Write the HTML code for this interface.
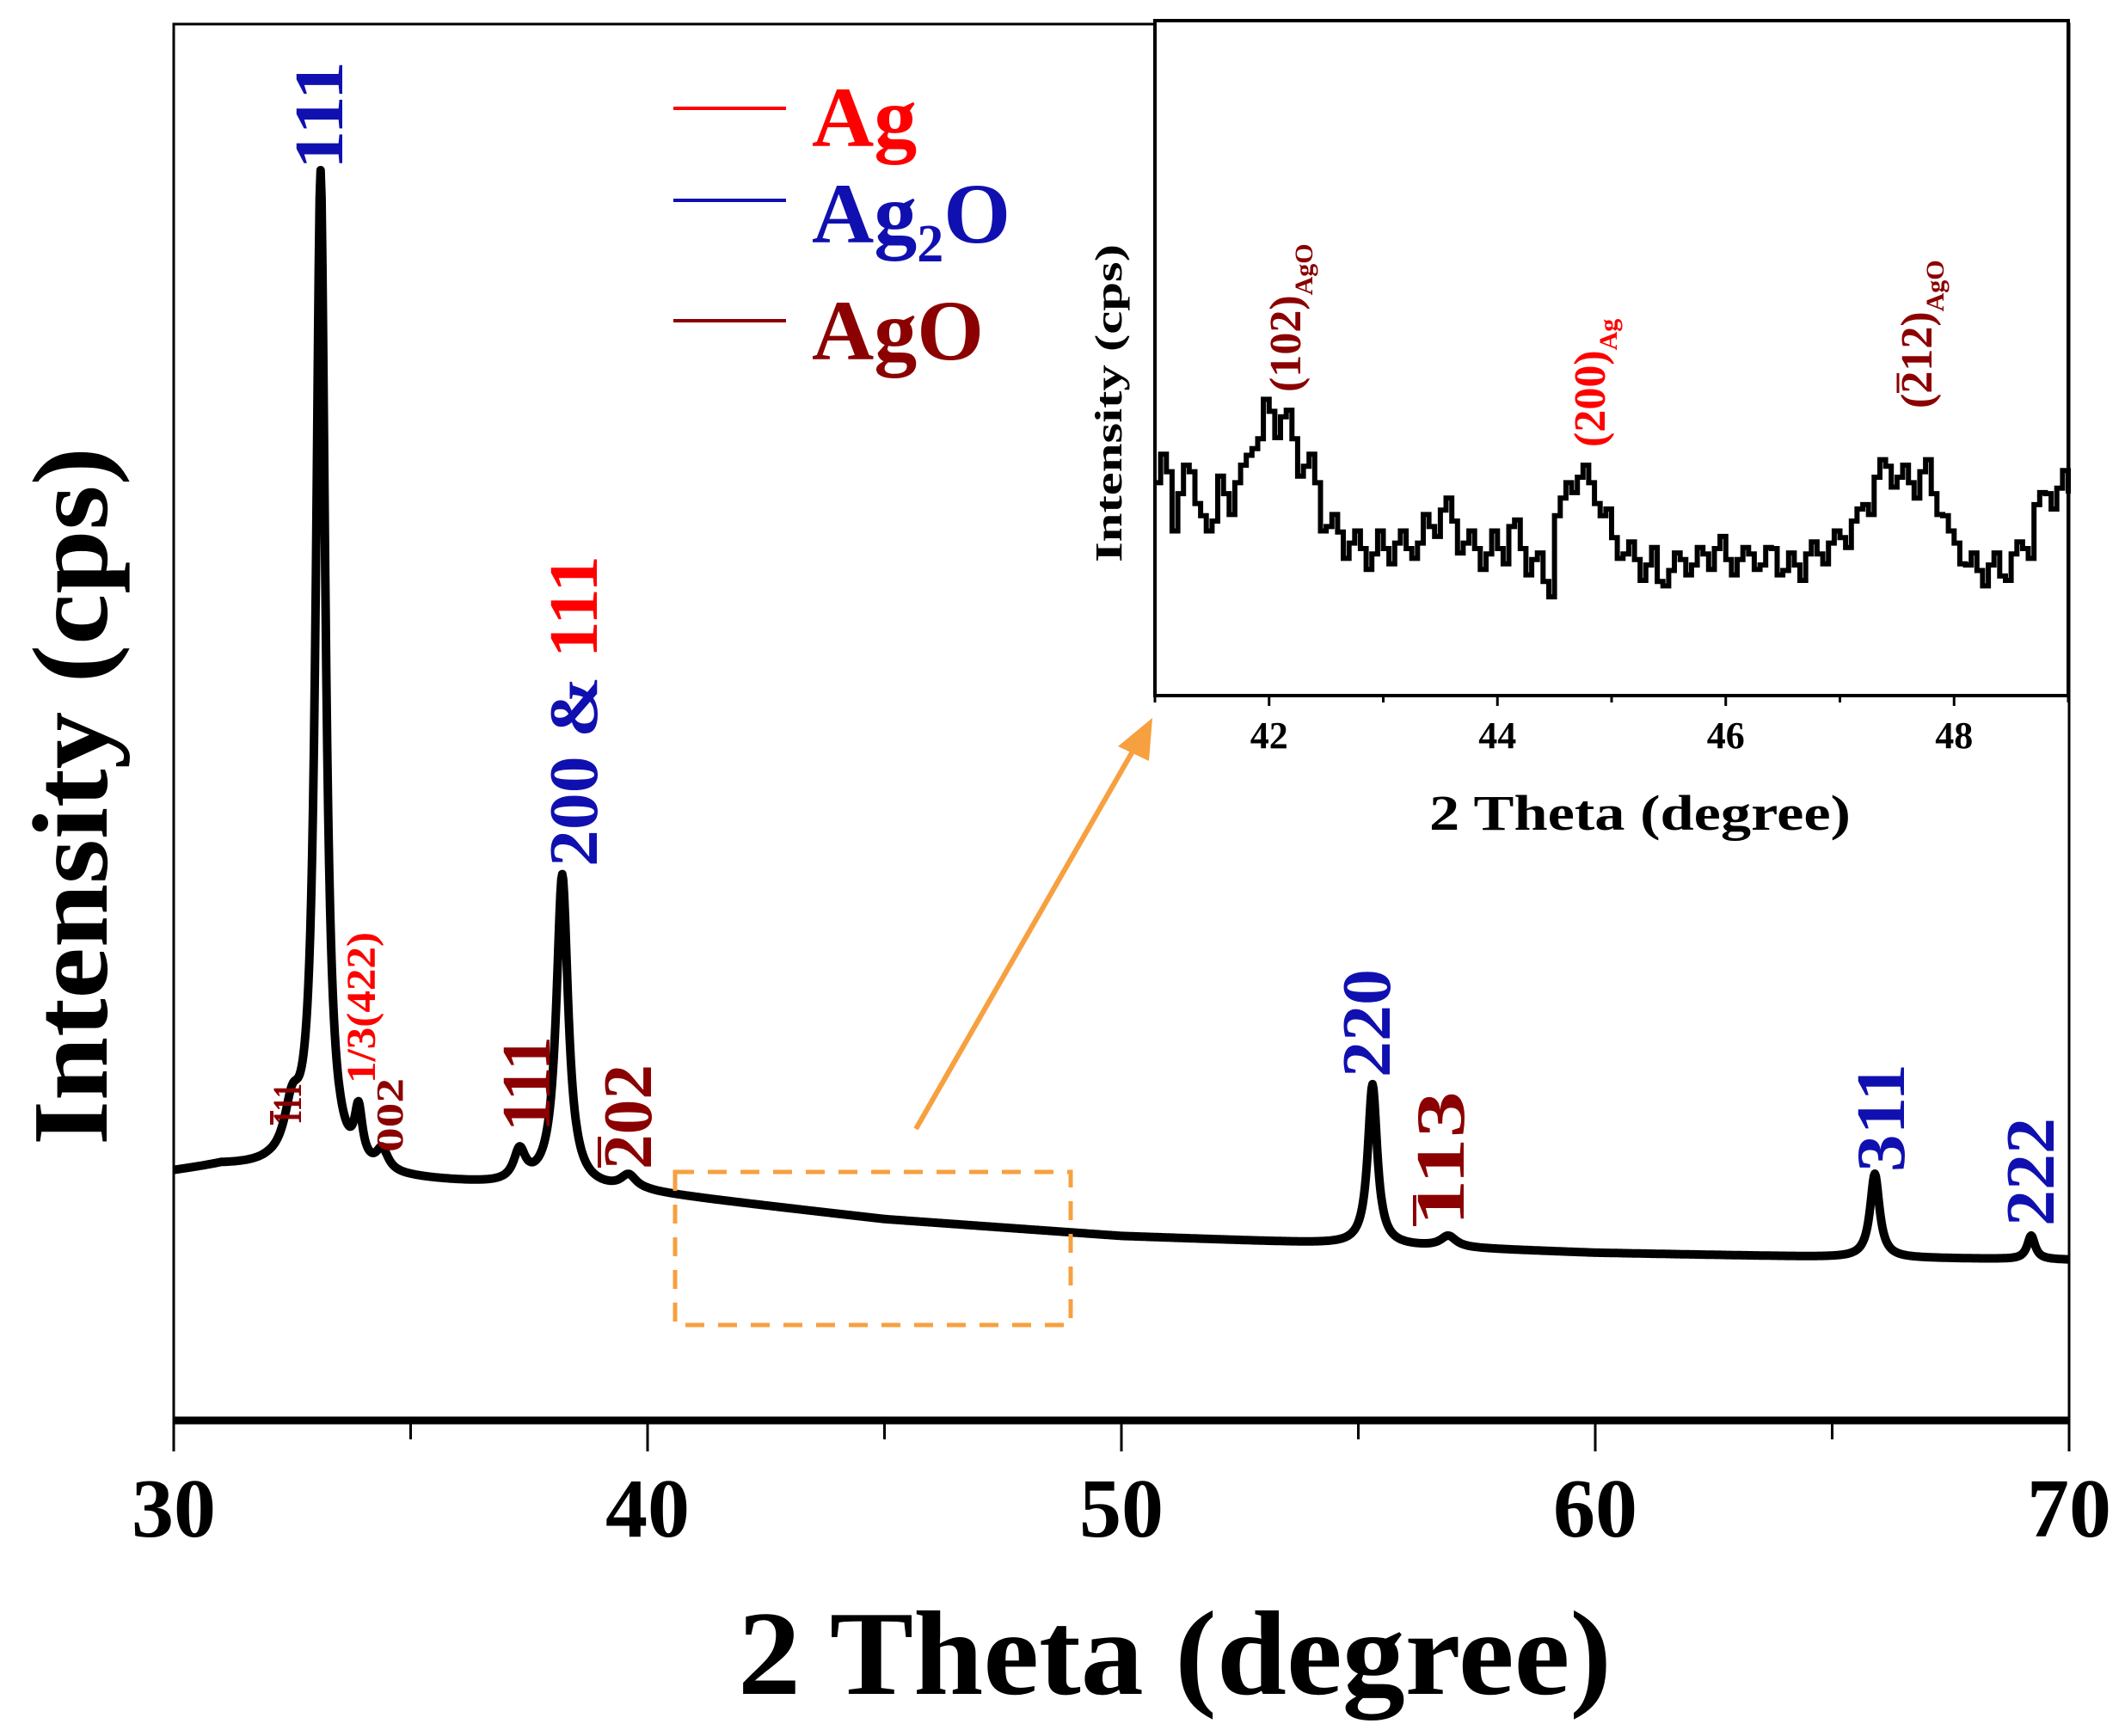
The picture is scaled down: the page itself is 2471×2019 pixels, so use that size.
<!DOCTYPE html>
<html><head><meta charset="utf-8"><style>
html,body{margin:0;padding:0;background:#fff;}
svg{display:block;font-family:"Liberation Serif",serif;font-weight:bold;}
</style></head><body>
<svg id="chart" width="2471" height="2019" viewBox="0 0 2471 2019" xmlns="http://www.w3.org/2000/svg">
<rect width="2471" height="2019" fill="#fff"/>
<g id="main"></g>
<g id="inset"></g>
</svg>
<script>
// ---- main chart data ----
const baseX = [30,31,32,33,35,37,40,45,50,55,60,65,70];
const baseY = [178,182,180,175,172,168,163,144,132,126,120,117,115];
const peakPos = [32.5,33.1,33.9,34.4,37.3,38.2,39.6,55.3,56.9,65.9,69.2];
const peakHeight = [35,716,37,15,22,224,10,115,8,60,17];
const peakWidth = [0.2,0.12,0.1,0.15,0.15,0.15,0.2,0.12,0.2,0.12,0.1];
const xTicks = [30,40,50,60,70];
const xMinor = [35,45,55,65];
// ---- inset data ----
const insetX = [];
for (let i=0;i<=80;i++) insetX.push(+(41+i*0.1).toFixed(1));
const insetVal = [388,408,368,408,328,318,368,388,438,468,518,508,468,418,388,308,298,278,268,258,268,278,268,278,308,338,318,278,268,258,268,308,268,248,208,328,388,398,388,328,288,258,248,238,208,228,248,238,258,268,248,248,258,238,268,228,238,258,258,278,288,318,348,398,418,398,388,408,368,328,278,238,228,238,218,258,268,348,368,378,368];
const insetMid = [440,300,420,350,300,400,330,420,450,540,470,520,400,440,300,330,250,300,230,300,240,300,250,330,290,360,260,300,230,300,240,320,220,260,180,360,370,420,350,340,250,280,210,270,200,260,220,270,230,290,220,270,230,270,220,260,210,280,240,300,270,340,330,430,380,420,360,430,330,300,240,260,200,260,210,280,250,370,340,410];
const insetTicks = [42,44,46,48];
const insetMinor = [41,43,45,47,49];

const NS="http://www.w3.org/2000/svg";
function mk(parent,tag,attrs,text){const e=document.createElementNS(NS,tag);for(const k in attrs)e.setAttribute(k,attrs[k]);if(text!==undefined)e.textContent=text;parent.appendChild(e);return e;}

const X0=202,X1=2406,Y0=1652,YT=28;
const sx=v=>X0+(v-30)/(40)*(X1-X0);
const sy=v=>Y0-v*(Y0-YT)/1000;
const main=document.getElementById('main');

function baseAt(x){for(let i=0;i<baseX.length-1;i++){if(x>=baseX[i]&&x<=baseX[i+1]){const t=(x-baseX[i])/(baseX[i+1]-baseX[i]);return baseY[i]+t*(baseY[i+1]-baseY[i]);}}return baseY[baseY.length-1];}
let d="";
for(let x=30;x<=70.0001;x+=0.02){let v=baseAt(x);for(let k=0;k<peakPos.length;k++){const w=peakWidth[k],dx=x-peakPos[k];v+=peakHeight[k]*w*w/(dx*dx+w*w);}d+=(d?"L":"M")+sx(x).toFixed(1)+","+sy(v).toFixed(1);}
const trace=mk(main,'path',{d:d,fill:'none',stroke:'#000','stroke-width':10,'stroke-linejoin':'round'});



mk(main,'rect',{x:X0,y:YT,width:X1-X0,height:Y0-YT,fill:'none',stroke:'#000','stroke-width':3,});
mk(main,'line',{x1:X0,y1:Y0,x2:X1,y2:Y0,stroke:'#000','stroke-width':9,});
xTicks.forEach(t=>{
 const l=mk(main,'line',{x1:sx(t),y1:Y0,x2:sx(t),y2:Y0+36,stroke:'#000','stroke-width':3});
 
 
 const tx=mk(main,'text',{x:sx(t),y:1787,'font-size':98,'text-anchor':'middle'},String(t));
 
 
});
xMinor.forEach(t=>{
 const l=mk(main,'line',{x1:sx(t),y1:Y0,x2:sx(t),y2:Y0+22,stroke:'#000','stroke-width':3});
 
 
});
mk(main,'text',{x:1366,y:1970,'font-size':140,'text-anchor':'middle',textLength:1016,lengthAdjust:'spacingAndGlyphs',},'2 Theta (degree)');
mk(main,'text',{x:0,y:0,'font-size':125,'text-anchor':'middle',textLength:812,lengthAdjust:'spacingAndGlyphs',transform:'translate(124,926) rotate(-90)',},'Intensity (cps)');

// legend
[[126,"#ff0000"],[233,"#1010b0"],[373,"#8b0000"]].forEach(L=>{
 mk(main,'line',{x1:783,y1:L[0],x2:914,y2:L[0],stroke:L[1],'stroke-width':4,});
});
mk(main,'text',{x:944,y:170,'font-size':100,fill:'#ff0000',},'Ag');
const l2=mk(main,'text',{x:944,y:282,'font-size':100,fill:'#1010b0',});
l2.innerHTML='Ag<tspan font-size="62" dy="22">2</tspan><tspan dy="-22">O</tspan>';
mk(main,'text',{x:944,y:418,'font-size':100,fill:'#8b0000',},'AgO');

function vlab(x,yb,html,col,fs,len,name){
 const t=mk(main,'text',{x:0,y:0,'font-size':fs,fill:col,transform:`translate(${x},${yb}) rotate(-90)`,textLength:len,lengthAdjust:'spacingAndGlyphs',});
 t.innerHTML=html;
}
vlab(398,197,'111','#1010b0',80,126,'label-ag2o-111');
vlab(694,1008,'<tspan fill="#1010b0">200 &amp; </tspan><tspan fill="#ff0000">111</tspan>','#1010b0',80,362,'label-200-111');
vlab(1616,1253,'220','#1010b0',80,126,'label-220');
vlab(2214,1363,'311','#1010b0',80,126,'label-311');
vlab(2388,1426,'222','#1010b0',80,126,'label-222');
vlab(639,1316,'111','#8b0000',80,111,'label-ago-111');
vlab(757,1360,'202','#8b0000',80,122,'label-ago-202');
vlab(1702,1426,'113','#8b0000',80,157,'label-ago-113');
vlab(350,1308,'111','#8b0000',48,48,'label-ago-m111');
vlab(436,1260,'1/3(422)','#ff0000',48,176,'label-ag-422');
vlab(468,1340,'002','#8b0000',44,86,'label-ago-002');
[[697,1322,1358],[1645,1390,1426],[316,1292,1308]].forEach(b=>{
 mk(main,'line',{x1:b[0],y1:b[1],x2:b[0],y2:b[2],stroke:'#8b0000','stroke-width':4,});
});

mk(main,'rect',{x:785,y:1363,width:460,height:178,fill:'none',stroke:'#f7a040','stroke-width':5,'stroke-dasharray':'22,16',});
mk(main,'line',{x1:1065,y1:1313,x2:1325,y2:860,stroke:'#f7a040','stroke-width':6,});
mk(main,'polygon',{points:'1340,835 1300,868 1336,885',fill:'#f7a040',});

// ---- inset ----
const inset=document.getElementById('inset');
const IX0=1343,IX1=2405,IY0=809,IYT=24;
const ix=v=>IX0+(v-41)/8*(IX1-IX0);
const iy=v=>IY0-v/1230*(IY0-IYT);
mk(inset,'rect',{x:IX0,y:IYT,width:IX1-IX0,height:IY0-IYT,fill:'#fff',stroke:'#000','stroke-width':4,});
let di="";
insetX.forEach((x,i)=>{
 const px=ix(x).toFixed(1),py=iy(insetVal[i]).toFixed(1);
 if(i===0)di+="M"+px+","+py;else di+="H"+px+"V"+py;
 if(i<insetMid.length){di+="H"+ix(x+0.05).toFixed(1)+"V"+iy(insetMid[i]).toFixed(1);}
});
const itr=mk(inset,'path',{d:di,fill:'none',stroke:'#000','stroke-width':6});


insetTicks.forEach(t=>{
 const l=mk(inset,'line',{x1:ix(t),y1:IY0,x2:ix(t),y2:IY0+12,stroke:'#000','stroke-width':3});
 
 
 const tx=mk(inset,'text',{x:ix(t),y:870,'font-size':44,'text-anchor':'middle'},String(t));
 
 
});
insetMinor.forEach(t=>{
 const l=mk(inset,'line',{x1:ix(t),y1:IY0,x2:ix(t),y2:IY0+8,stroke:'#000','stroke-width':3});
 
 
});
mk(inset,'text',{x:1907,y:965,'font-size':58,'text-anchor':'middle',textLength:490,lengthAdjust:'spacingAndGlyphs',},'2 Theta (degree)');
mk(inset,'text',{x:0,y:0,'font-size':44,'text-anchor':'middle',textLength:370,lengthAdjust:'spacingAndGlyphs',transform:'translate(1304,469) rotate(-90)',},'Intensity (cps)');
function ilab(x,yb,html,name){const t=mk(inset,'text',{x:0,y:0,'font-size':52,transform:`translate(${x},${yb}) rotate(-90)`,});t.innerHTML=html;}
ilab(1512,456,'<tspan fill="#8b0000">(102)</tspan><tspan fill="#8b0000" font-size="30" dy="14">AgO</tspan>','inset-label-102');
ilab(1866,520,'<tspan fill="#ff0000">(200)</tspan><tspan fill="#ff0000" font-size="30" dy="14">Ag</tspan>','inset-label-200');
ilab(2246,475,'<tspan fill="#8b0000">(212)</tspan><tspan fill="#8b0000" font-size="30" dy="14">AgO</tspan>','inset-label-212');
mk(inset,'line',{x1:2207,y1:434,x2:2207,y2:457,stroke:'#8b0000','stroke-width':3,});
</script>
</body></html>
